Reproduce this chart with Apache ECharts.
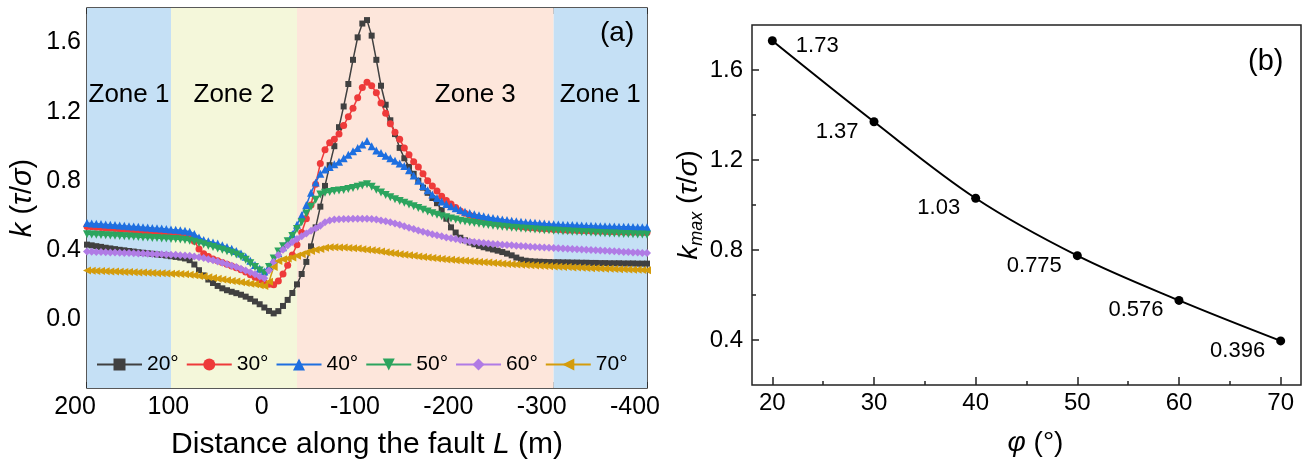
<!DOCTYPE html>
<html><head><meta charset="utf-8">
<script src="https://cdn.jsdelivr.net/npm/echarts@6/dist/echarts.min.js"></script>
<style>html,body{margin:0;padding:0;background:#fff}#c{width:1304px;height:465px}</style>
</head><body><div id="c"></div>
<script>
// ---------- Panel (a) data ----------
const distance = [
200,195,190,185,180,175,170,165,160,155,
150,145,140,135,130,125,120,115,110,105,
100,95,90,85,80,75,70,65,60,55,
50,45,40,35,30,25,20,15,10,5,
0,-5,-10,-15,-20,-25,-30,-35,-40,-45,
-50,-55,-60,-65,-70,-75,-80,-85,-90,-95,
-100,-105,-110,-115,-120,-125,-130,-135,-140,-145,
-150,-155,-160,-165,-170,-175,-180,-185,-190,-195,
-200,-205,-210,-215,-220,-225,-230,-235,-240,-245,
-250,-255,-260,-265,-270,-275,-280,-285,-290,-295,
-300,-305,-310,-315,-320,-325,-330,-335,-340,-345,
-350,-355,-360,-365,-370,-375,-380,-385,-390,-395,
-400];

const k20 = [
0.430,0.426,0.421,0.417,0.412,0.408,0.404,0.400,0.397,0.393,
0.390,0.386,0.383,0.380,0.377,0.373,0.370,0.367,0.363,0.359,
0.355,0.350,0.340,0.315,0.282,0.252,0.228,0.208,0.191,0.177,
0.166,0.157,0.149,0.140,0.129,0.116,0.101,0.085,0.066,0.046,
0.032,0.045,0.075,0.110,0.150,0.200,0.260,0.330,0.420,0.530,
0.650,0.770,0.890,1.000,1.110,1.230,1.360,1.500,1.630,1.710,
1.730,1.640,1.500,1.350,1.240,1.150,1.070,0.990,0.930,0.880,
0.840,0.800,0.760,0.730,0.700,0.670,0.630,0.580,0.530,0.500,
0.470,0.455,0.442,0.432,0.423,0.415,0.408,0.402,0.395,0.387,
0.378,0.368,0.355,0.343,0.337,0.334,0.332,0.331,0.330,0.329,
0.328,0.328,0.327,0.327,0.326,0.326,0.325,0.325,0.324,0.324,
0.323,0.323,0.322,0.322,0.322,0.321,0.321,0.321,0.320,0.320,
0.320];

const k30 = [
0.535,0.533,0.531,0.529,0.527,0.525,0.523,0.521,0.519,0.517,
0.515,0.513,0.511,0.509,0.507,0.505,0.502,0.500,0.497,0.494,
0.490,0.485,0.475,0.450,0.405,0.377,0.361,0.347,0.336,0.326,
0.316,0.306,0.296,0.285,0.271,0.256,0.241,0.226,0.211,0.201,
0.198,0.220,0.260,0.310,0.370,0.430,0.500,0.580,0.660,0.780,
0.900,0.980,1.020,1.040,1.070,1.120,1.170,1.220,1.280,1.340,
1.370,1.350,1.310,1.250,1.190,1.130,1.080,1.040,0.990,0.950,
0.910,0.880,0.840,0.800,0.770,0.740,0.710,0.685,0.665,0.645,
0.625,0.612,0.600,0.590,0.580,0.572,0.565,0.559,0.553,0.548,
0.544,0.540,0.537,0.534,0.531,0.528,0.526,0.524,0.522,0.520,
0.518,0.517,0.515,0.514,0.513,0.512,0.511,0.510,0.509,0.508,
0.507,0.506,0.505,0.504,0.503,0.503,0.502,0.501,0.501,0.500,
0.500];

const k40 = [
0.555,0.553,0.551,0.549,0.547,0.545,0.543,0.541,0.539,0.537,
0.535,0.533,0.531,0.529,0.527,0.525,0.523,0.521,0.518,0.516,
0.513,0.510,0.505,0.492,0.472,0.457,0.449,0.443,0.436,0.427,
0.417,0.406,0.393,0.378,0.360,0.337,0.312,0.290,0.275,0.305,
0.345,0.380,0.415,0.450,0.490,0.545,0.600,0.660,0.730,0.790,
0.840,0.865,0.880,0.895,0.910,0.930,0.950,0.970,0.990,1.010,
1.030,1.000,0.975,0.960,0.945,0.930,0.915,0.900,0.885,0.860,
0.830,0.800,0.770,0.745,0.720,0.700,0.680,0.665,0.652,0.640,
0.630,0.621,0.613,0.606,0.600,0.594,0.589,0.584,0.580,0.576,
0.572,0.569,0.566,0.563,0.560,0.558,0.556,0.554,0.552,0.550,
0.548,0.547,0.545,0.544,0.543,0.542,0.541,0.540,0.539,0.538,
0.537,0.536,0.535,0.535,0.534,0.533,0.533,0.532,0.531,0.531,
0.530];

const k50 = [
0.490,0.489,0.487,0.486,0.484,0.483,0.481,0.480,0.478,0.477,
0.475,0.474,0.472,0.471,0.469,0.468,0.466,0.465,0.463,0.462,
0.460,0.457,0.453,0.447,0.440,0.432,0.424,0.416,0.408,0.400,
0.392,0.383,0.373,0.360,0.343,0.322,0.300,0.280,0.265,0.300,
0.350,0.390,0.420,0.450,0.480,0.520,0.560,0.610,0.650,0.690,
0.720,0.730,0.735,0.740,0.743,0.747,0.752,0.758,0.765,0.772,
0.780,0.765,0.748,0.732,0.718,0.705,0.693,0.682,0.672,0.662,
0.652,0.642,0.632,0.622,0.612,0.603,0.595,0.588,0.581,0.575,
0.569,0.564,0.559,0.555,0.551,0.547,0.543,0.540,0.537,0.534,
0.531,0.528,0.526,0.524,0.522,0.520,0.518,0.516,0.514,0.513,
0.511,0.510,0.508,0.507,0.505,0.504,0.503,0.501,0.500,0.499,
0.498,0.496,0.495,0.494,0.493,0.492,0.491,0.490,0.489,0.488,
0.487];

const k60 = [
0.390,0.389,0.388,0.387,0.386,0.385,0.384,0.383,0.382,0.381,
0.380,0.379,0.378,0.377,0.376,0.375,0.374,0.373,0.372,0.371,
0.369,0.367,0.365,0.362,0.357,0.352,0.346,0.340,0.333,0.325,
0.317,0.308,0.300,0.290,0.280,0.270,0.258,0.245,0.235,0.280,
0.330,0.370,0.400,0.425,0.445,0.462,0.478,0.495,0.510,0.525,
0.540,0.560,0.570,0.575,0.577,0.578,0.579,0.580,0.580,0.580,
0.580,0.578,0.575,0.570,0.565,0.560,0.553,0.545,0.537,0.528,
0.520,0.512,0.504,0.497,0.490,0.484,0.478,0.472,0.467,0.462,
0.457,0.452,0.448,0.445,0.442,0.439,0.436,0.434,0.432,0.430,
0.428,0.426,0.424,0.422,0.420,0.418,0.417,0.415,0.414,0.412,
0.411,0.409,0.408,0.406,0.405,0.403,0.402,0.400,0.399,0.397,
0.396,0.394,0.393,0.391,0.390,0.388,0.387,0.385,0.384,0.382,
0.381];

const k70 = [
0.280,0.279,0.278,0.277,0.276,0.275,0.274,0.273,0.272,0.271,
0.270,0.269,0.268,0.267,0.266,0.265,0.264,0.263,0.262,0.261,
0.260,0.258,0.256,0.253,0.249,0.245,0.241,0.237,0.233,0.228,
0.224,0.220,0.216,0.212,0.208,0.204,0.200,0.195,0.190,0.215,
0.300,0.335,0.345,0.350,0.356,0.365,0.375,0.385,0.393,0.400,
0.405,0.412,0.415,0.415,0.414,0.413,0.411,0.409,0.407,0.404,
0.401,0.398,0.394,0.390,0.386,0.382,0.378,0.374,0.371,0.368,
0.365,0.362,0.359,0.356,0.353,0.350,0.347,0.344,0.342,0.340,
0.338,0.336,0.334,0.332,0.330,0.328,0.326,0.324,0.322,0.320,
0.318,0.317,0.315,0.314,0.312,0.311,0.309,0.308,0.306,0.305,
0.303,0.302,0.301,0.300,0.298,0.297,0.296,0.295,0.294,0.293,
0.292,0.291,0.290,0.289,0.288,0.287,0.286,0.285,0.284,0.283,
0.282];

const seriesNames = ['20°','30°','40°','50°','60°','70°'];
const zoneBounds = [200, 110, -25, -300, -400];
const zoneNames = ['Zone 1','Zone 2','Zone 3','Zone 1'];

const xTicksA = [200,100,0,-100,-200,-300,-400];
const xMinorA = [150,50,-50,-150,-250,-350];
const yTicksA = [0,0.4,0.8,1.2,1.6];
const yMinorA = [-0.2,0.2,0.6,1.0,1.4];

// ---------- Panel (b) data ----------
const phi = [20,30,40,50,60,70];
const kmax = [1.73,1.37,1.03,0.775,0.576,0.396];
const kmaxLabels = ['1.73','1.37','1.03','0.775','0.576','0.396'];
const xTicksB = [20,30,40,50,60,70];
const xMinorB = [25,35,45,55,65];
const yTicksB = [0.4,0.8,1.2,1.6];
const yMinorB = [0.6,1.0,1.4];

// ---------- Styling ----------
const FF = '"Liberation Sans", Arial, sans-serif';
const AX = '#222';
const colors = ['#404040','#ee3a3a','#1e6fe0','#2ca45e','#b07be5','#d49c0c'];
const symbols = ['rect','circle','triangle','triangle','diamond','triangle'];
const symRot = [0,0,0,180,0,90];
const symSizes = [6,7,8,8,8,8];
const zoneColors = ['#c5e0f5','#f4f7da','#fde6db','#c5e0f5'];
const zoneLabelOffset = [[0,0],[0,0],[50,0],[0,0]];

function axis(o) {
  const base = {
    type: 'value', splitLine: {show: false},
    axisLine: {show: false, onZero: false},
    axisTick: {show: false}, axisLabel: {show: false}
  };
  return Object.assign(base, o);
}
function ticks(vals, len) {
  return {show: true, inside: true, length: len, customValues: vals, lineStyle: {color: AX, width: 1.5}};
}

const chart = echarts.init(document.getElementById('c'), null, {renderer: 'canvas'});

const allK = [k20, k30, k40, k50, k60, k70];
const lineSeries = allK.map((vals, s) => {
  const o = {
    name: seriesNames[s], type: 'line', xAxisIndex: 0, yAxisIndex: 0,
    data: distance.map((d, i) => [d, vals[i]]),
    symbol: symbols[s], symbolSize: symSizes[s], symbolRotate: symRot[s],
    showAllSymbol: true,
    lineStyle: {color: colors[s], width: 1.5},
    itemStyle: {color: colors[s]},
    emphasis: {disabled: true}
  };
  if (s === 0) {
    o.markArea = {
      silent: true,
      data: zoneNames.map((n, z) => [
        {xAxis: zoneBounds[z], name: n, itemStyle: {color: zoneColors[z]},
         label: {show: true, position: 'insideTop', distance: 74, offset: zoneLabelOffset[z],
                 fontSize: 26, fontFamily: FF, color: '#000'}},
        {xAxis: zoneBounds[z + 1]}
      ])
    };
  }
  return o;
});

const option = {
  animation: false,
  backgroundColor: '#fff',
  textStyle: {fontFamily: FF},
  grid: [
    {left: 87, top: 8, width: 560, height: 383, show: true, borderColor: AX, borderWidth: 1.5, backgroundColor: 'transparent'},
    {left: 752, top: 25, width: 549, height: 360, show: true, borderColor: AX, borderWidth: 1.5, backgroundColor: 'transparent'}
  ],
  legend: {
    data: seriesNames, left: 96, top: 354, padding: 0,
    itemWidth: 45, itemHeight: 15, itemGap: 7,
    textStyle: {fontSize: 21, fontFamily: FF, color: '#000'},
    selectedMode: false
  },
  xAxis: [
    axis({gridIndex: 0, position: 'bottom', min: -400, max: 200, inverse: true,
      axisTick: ticks(xTicksA, 6),
      axisLabel: {show: true, customValues: xTicksA, fontSize: 25, fontFamily: FF, color: '#000', margin: 7, padding: [0, 24, 0, 0],
                  formatter: v => String(v)},
      name: '{n|Distance along the fault }{i|L}{n| (m)}', nameLocation: 'middle', nameGap: 42,
      nameTextStyle: {fontSize: 30, fontFamily: FF, color: '#000',
        rich: {n: {fontSize: 30, fontFamily: FF, color: '#000'}, i: {fontSize: 30, fontFamily: FF, fontStyle: 'italic', color: '#000'}}}
    }),
    axis({gridIndex: 0, position: 'bottom', min: -400, max: 200, inverse: true, axisTick: ticks(xMinorA, 3)}),
    axis({gridIndex: 0, position: 'top', min: -400, max: 200, inverse: true, axisTick: ticks(xTicksA, 6)}),
    axis({gridIndex: 0, position: 'top', min: -400, max: 200, inverse: true, axisTick: ticks(xMinorA, 3)}),
    axis({gridIndex: 1, position: 'bottom', min: 18, max: 72,
      axisTick: ticks(xTicksB, 8),
      axisLabel: {show: true, customValues: xTicksB, fontSize: 24, fontFamily: FF, color: '#000', margin: 6,
                  formatter: v => String(v)},
      name: '{i|φ}{n| (°)}', nameLocation: 'middle', nameGap: 44,
      nameTextStyle: {fontSize: 28, fontFamily: FF, color: '#000', padding: [0, 0, 0, 18],
        rich: {n: {fontSize: 28, fontFamily: FF, color: '#000'}, i: {fontSize: 28, fontFamily: FF, fontStyle: 'italic', color: '#000'}}}
    }),
    axis({gridIndex: 1, position: 'bottom', min: 18, max: 72, axisTick: ticks(xMinorB, 4)})
  ],
  yAxis: [
    axis({gridIndex: 0, position: 'left', min: -0.4, max: 1.8,
      axisTick: ticks(yTicksA, 6),
      axisLabel: {show: true, customValues: yTicksA, fontSize: 25, fontFamily: FF, color: '#000', margin: 6,
                  formatter: v => v.toFixed(1)},
      name: '{i|k}{n| (}{i|τ}{n|/}{i|σ}{n|)}', nameLocation: 'middle', nameGap: 50, nameRotate: 90,
      nameTextStyle: {fontSize: 29, fontFamily: FF, color: '#000',
        rich: {n: {fontSize: 29, fontFamily: FF, color: '#000'}, i: {fontSize: 29, fontFamily: FF, fontStyle: 'italic', color: '#000'}}}
    }),
    axis({gridIndex: 0, position: 'left', min: -0.4, max: 1.8, axisTick: ticks(yMinorA, 3)}),
    axis({gridIndex: 0, position: 'right', min: -0.4, max: 1.8, axisTick: ticks(yTicksA, 6)}),
    axis({gridIndex: 0, position: 'right', min: -0.4, max: 1.8, axisTick: ticks(yMinorA, 3)}),
    axis({gridIndex: 1, position: 'left', min: 0.2, max: 1.8,
      axisTick: ticks(yTicksB, 7),
      axisLabel: {show: true, customValues: yTicksB, fontSize: 24, fontFamily: FF, color: '#000', margin: 9,
                  formatter: v => v.toFixed(1)},
      name: '{i|k}{s|max}{n| (}{i|τ}{n|/}{i|σ}{n|)}', nameLocation: 'middle', nameGap: 42, nameRotate: 90,
      nameTextStyle: {fontSize: 28, fontFamily: FF, color: '#000',
        rich: {n: {fontSize: 28, lineHeight: 34, fontFamily: FF, color: '#000'},
               i: {fontSize: 28, lineHeight: 34, fontFamily: FF, fontStyle: 'italic', color: '#000'},
               s: {fontSize: 18, lineHeight: 34, fontFamily: FF, fontStyle: 'italic', color: '#000', verticalAlign: 'bottom'}}}
    }),
    axis({gridIndex: 1, position: 'left', min: 0.2, max: 1.8, axisTick: ticks(yMinorB, 4)})
  ],
  graphic: [
    {type: 'text', z: 100, left: 600, top: 19, style: {text: '(a)', fontSize: 28, fontFamily: FF, fill: '#000'}},
    {type: 'text', z: 100, left: 1248, top: 47, style: {text: '(b)', fontSize: 29, fontFamily: FF, fill: '#000'}}
  ],
  series: lineSeries.concat([{
    name: 'kmax', type: 'line', xAxisIndex: 4, yAxisIndex: 4, smooth: 0.35,
    data: phi.map((p, i) => ({
      value: [p, kmax[i]],
      label: i === 0 ? {position: 'right', distance: 19, offset: [0, 5]} : {position: 'left', distance: 11, offset: [0, 10]}
    })),
    symbol: 'circle', symbolSize: 9,
    lineStyle: {color: '#000', width: 2},
    itemStyle: {color: '#000'},
    label: {show: true, fontSize: 22, fontFamily: FF, color: '#000', formatter: p => kmaxLabels[p.dataIndex]},
    emphasis: {disabled: true}
  }])
};
chart.setOption(option);
</script></body></html>
